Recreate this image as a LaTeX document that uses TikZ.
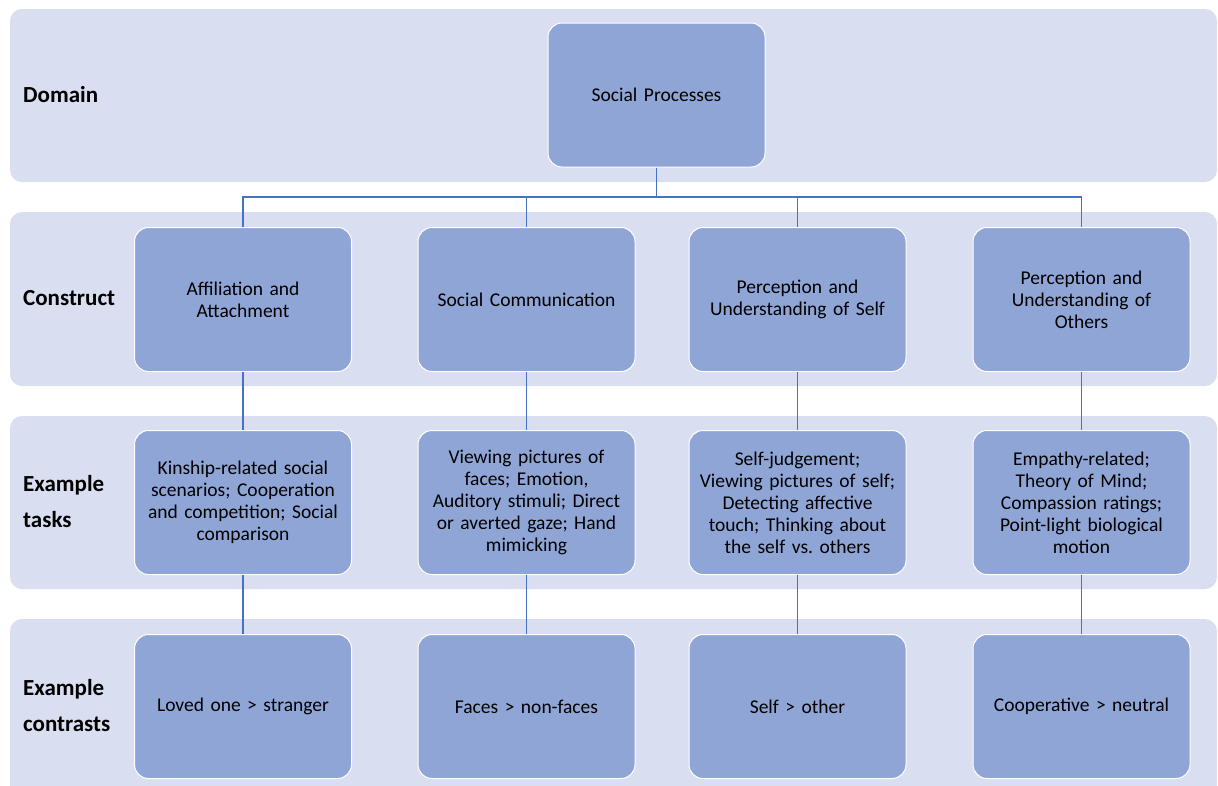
\documentclass[tikz,border=0pt]{standalone}
\usepackage{fontspec}
\setmainfont{Carlito}
\usepackage{xcolor}
\usetikzlibrary{positioning}

\definecolor{bandfill}{HTML}{D9DEF0}
\definecolor{boxfill}{HTML}{8FA5D6}
\definecolor{linkblue}{HTML}{4472C4}

\begin{document}
\begin{tikzpicture}[
    x=1pt, y=-1pt,
    band_bg/.style={fill=bandfill, rounded corners=12pt},
    proc_box/.style={draw=white, line width=1pt, fill=boxfill, rounded corners=14pt,
        minimum width=217pt, minimum height=144pt, align=center,
        font=\fontsize{19.5}{22}\selectfont, text width=204pt},
    row_label/.style={anchor=west, align=left, inner sep=0pt,
        font=\fontsize{23}{36}\selectfont\bfseries},
    link/.style={draw=linkblue, line width=1.5pt},
]
    \useasboundingbox (0,0) rectangle (1218,785);

    % background bands
    \fill[band_bg] (10,9) rectangle (1217,182);
    \fill[band_bg] (10,212) rectangle (1217,386);
    \fill[band_bg] (10,416) rectangle (1217,589);
    \fill[band_bg] (10,619) rectangle (1217,800);

    % row labels
    \node[row_label] (lab_domain) at (23,95) {Domain};
    \node[row_label] (lab_construct) at (23,298) {Construct};
    \node[row_label] (lab_tasks) at (23,502) {Example\\tasks};
    \node[row_label] (lab_contrasts) at (23,706) {Example\\contrasts};

    % domain
    \node[proc_box] (social) at (656.5,95) {Social Processes};

    % constructs
    \node[proc_box] (affil) at (243,299.5) {Affiliation and\\Attachment};
    \node[proc_box] (comm) at (526.5,299.5) {Social Communication};
    \node[proc_box] (self) at (797.5,299.5) {Perception and\\Understanding of Self};
    \node[proc_box] (others) at (1081.5,299.5) {Perception and\\Understanding of\\Others};

    % example tasks
    \node[proc_box] (affil_task) at (243,502.5) {Kinship-related social\\scenarios; Cooperation\\and competition; Social\\comparison};
    \node[proc_box] (comm_task) at (526.5,502.5) {Viewing pictures of\\faces; Emotion,\\Auditory stimuli; Direct\\or averted gaze; Hand\\mimicking};
    \node[proc_box] (self_task) at (797.5,502.5) {Self-judgement;\\Viewing pictures of self;\\Detecting affective\\touch; Thinking about\\the self vs.\ others};
    \node[proc_box] (others_task) at (1081.5,502.5) {Empathy-related;\\Theory of Mind;\\Compassion ratings;\\Point-light biological\\motion};

    % example contrasts
    \node[proc_box] (affil_con) at (243,706.5) {Loved one > stranger};
    \node[proc_box] (comm_con) at (526.5,706.5) {Faces > non-faces};
    \node[proc_box] (self_con) at (797.5,706.5) {Self > other};
    \node[proc_box] (others_con) at (1081.5,706.5) {Cooperative > neutral};

    % tree links
    \coordinate (bus) at (656.5,197);
    \draw[link] (social) -- (bus);
    \foreach \c in {affil, comm, self, others} {
        \draw[link] (bus) -| (\c.north);
        \draw[link] (\c) -- (\c_task);
        \draw[link] (\c_task) -- (\c_con);
    }
\end{tikzpicture}
\end{document}
